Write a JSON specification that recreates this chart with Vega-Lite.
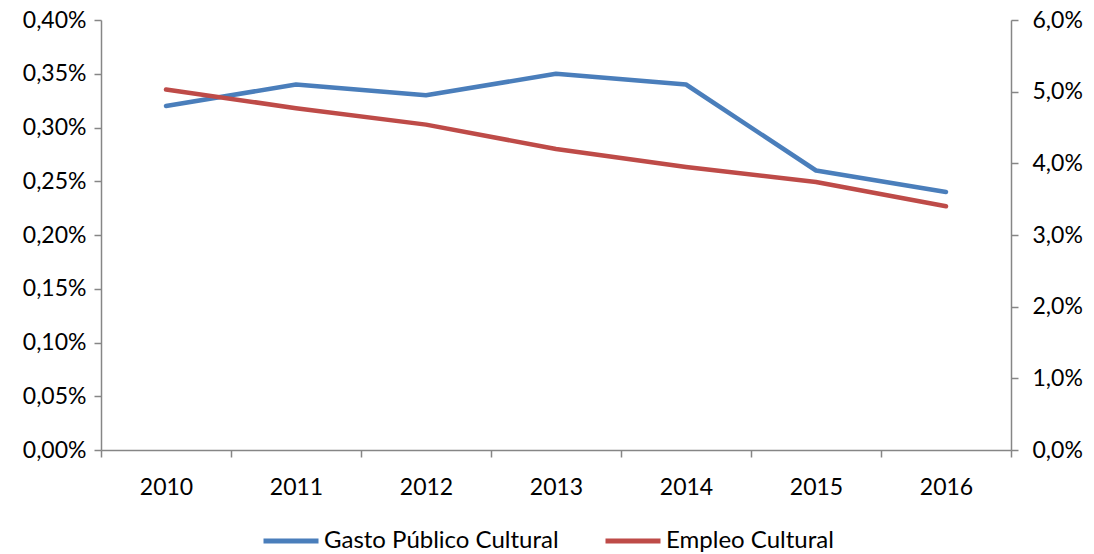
{
  "$schema": "https://vega.github.io/schema/vega-lite/v6.json",
  "width": 910,
  "height": 430,
  "autosize": {"type": "none"},
  "padding": {"left": 101, "top": 20, "right": 83, "bottom": 104},
  "background": "white",
  "config": {
    "locale": {"number": {"decimal": ",", "thousands": ".", "grouping": [3], "currency": ["", " €"]}},
    "font": "Lato",
    "view": {"stroke": null},
    "axis": {
      "labelFont": "Lato",
      "labelFontSize": 23,
      "labelColor": "#000000",
      "labelOverlap": false,
      "domainColor": "#868686",
      "domainWidth": 1.5,
      "tickColor": "#868686",
      "tickWidth": 1.5,
      "tickSize": 7,
      "grid": false,
      "title": null
    }
  },
  "data": {
    "values": [
      {"year": "2010", "gasto": 0.0032, "empleo": 0.0503},
      {"year": "2011", "gasto": 0.0034, "empleo": 0.0477},
      {"year": "2012", "gasto": 0.0033, "empleo": 0.0454},
      {"year": "2013", "gasto": 0.0035, "empleo": 0.0420},
      {"year": "2014", "gasto": 0.0034, "empleo": 0.0395},
      {"year": "2015", "gasto": 0.0026, "empleo": 0.0374},
      {"year": "2016", "gasto": 0.0024, "empleo": 0.0340}
    ]
  },
  "encoding": {
    "x": {
      "field": "year",
      "type": "ordinal",
      "scale": {"type": "band", "paddingInner": 0, "paddingOuter": 0},
      "axis": {"labelAngle": 0, "tickBand": "extent", "labelPadding": 19, "title": null}
    }
  },
  "layer": [
    {
      "mark": {"type": "line", "strokeWidth": 4.5, "strokeCap": "round", "strokeJoin": "round"},
      "encoding": {
        "y": {
          "field": "gasto",
          "type": "quantitative",
          "scale": {"domain": [0, 0.004], "nice": false, "zero": true},
          "axis": {"orient": "left", "format": ".2%", "values": [0, 0.0005, 0.001, 0.0015, 0.002, 0.0025, 0.003, 0.0035, 0.004], "labelPadding": 8, "labelOverlap": false, "title": null}
        },
        "color": {
          "datum": "Gasto Público Cultural",
          "type": "nominal",
          "scale": {"domain": ["Gasto Público Cultural", "Empleo Cultural"], "range": ["#4A7EBB", "#BE4B48"]},
          "legend": {
            "orient": "none",
            "direction": "horizontal",
            "legendX": 160,
            "legendY": 491,
            "title": null,
            "symbolType": "stroke",
            "symbolStrokeWidth": 5,
            "symbolSize": 3025,
            "labelFont": "Lato",
            "labelFontSize": 24,
            "labelColor": "#000000",
            "labelLimit": 500,
            "labelOffset": 3,
            "columnPadding": 36,
            "padding": 0
          }
        }
      }
    },
    {
      "mark": {"type": "line", "strokeWidth": 4.5, "strokeCap": "round", "strokeJoin": "round"},
      "encoding": {
        "y": {
          "field": "empleo",
          "type": "quantitative",
          "scale": {"domain": [0, 0.06], "nice": false, "zero": true},
          "axis": {"orient": "right", "format": ".1%", "values": [0, 0.01, 0.02, 0.03, 0.04, 0.05, 0.06], "labelPadding": 14, "labelOverlap": false, "title": null}
        },
        "color": {"datum": "Empleo Cultural", "type": "nominal"}
      }
    }
  ],
  "resolve": {"scale": {"y": "independent"}}
}
